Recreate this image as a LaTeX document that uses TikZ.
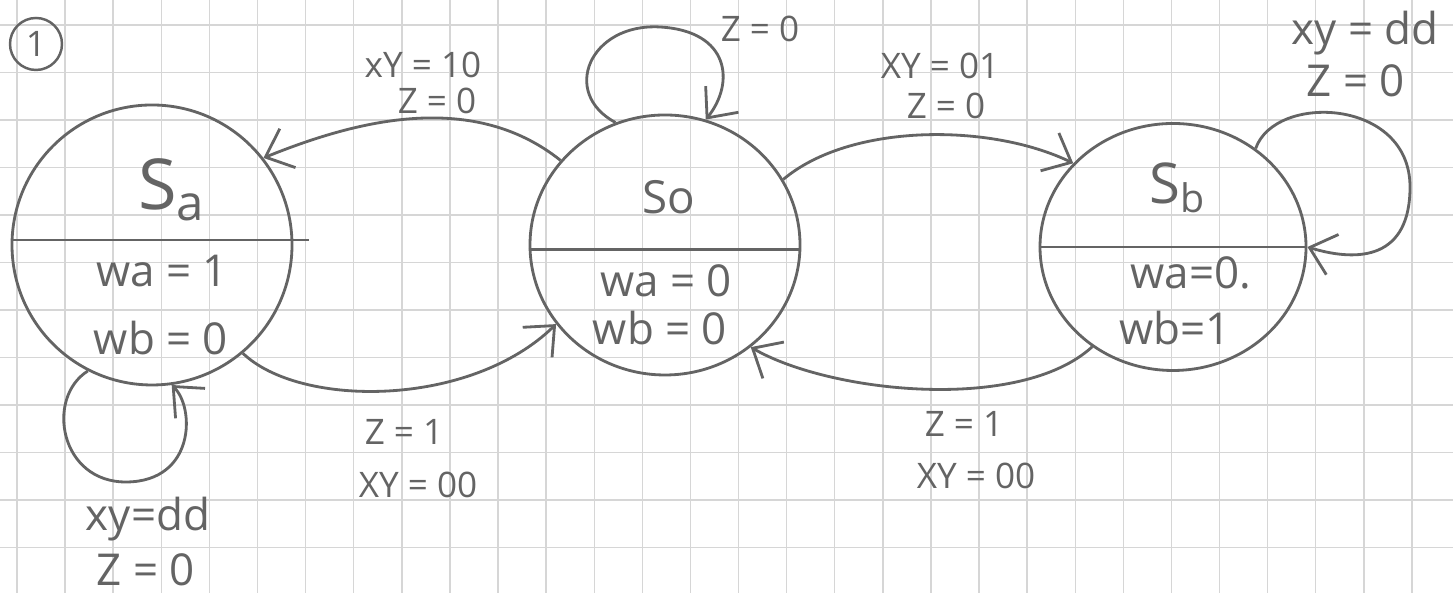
\documentclass[tikz,border=0pt]{standalone}
\usepackage{fontspec}
\setmainfont{Open Sans}
\usetikzlibrary{arrows.meta,shapes.geometric}

\definecolor{lapiz}{RGB}{100,100,100}
\definecolor{cuadricula}{RGB}{214,214,214}

\begin{document}
\begin{tikzpicture}[
    estado/.style={ellipse, draw=lapiz, line width=0.8pt, inner sep=0pt},
    trazo/.style={draw=lapiz, line width=0.8pt},
    flecha/.style={trazo, -{Straight Barb[length=2.4mm,width=4.2mm]}},
    nombre/.style={text=lapiz},
    salida/.style={text=lapiz, font=\fontsize{12.5}{14}\selectfont},
    etiqueta/.style={text=lapiz, font=\fontsize{10}{12}\selectfont},
    etiquetagrande/.style={text=lapiz, font=\fontsize{12.5}{14}\selectfont}
  ]

  % Hoja cuadriculada de fondo
  \useasboundingbox (0,0) rectangle (14.53,5.93);
  \fill[white] (0,0) rectangle (14.53,5.93);
  \foreach \i in {0,...,29}
    \draw[cuadricula, line width=0.4pt] ({0.17+0.481*\i},0) -- ++(0,5.93);
  \foreach \j in {0,...,12}
    \draw[cuadricula, line width=0.4pt] (0,{5.68-0.475*\j}) -- ++(14.53,0);

  % Número del ejercicio
  \node[circle, draw=lapiz, line width=0.7pt, minimum size=0.52cm, inner sep=0pt, text=lapiz] (num) at (0.36,5.49) {1};

  % Estados
  \node[estado, minimum width=2.80cm, minimum height=2.80cm] (sa) at (1.52,3.48) {};
  \node[estado, minimum width=2.70cm, minimum height=2.60cm] (so) at (6.65,3.48) {};
  \node[estado, minimum width=2.66cm, minimum height=2.47cm] (sb) at (11.73,3.46) {};

  % Línea que separa el nombre del estado de sus salidas
  \draw[trazo] (sa.178) -- ++(2.98,0);
  \draw[trazo] (so.182) -- (so.358);
  \draw[trazo] (sb.west) -- (sb.east);

  % Nombre y salidas de cada estado
  \node[nombre, font=\fontsize{20}{22}\selectfont] (nsa) at (1.72,4.03) {S\textsubscript{a}};
  \node[salida] (wasa) at (1.62,3.22) {wa = 1};
  \node[salida] (wbsa) at (1.61,2.55) {wb = 0};

  \node[nombre, font=\fontsize{13}{15}\selectfont] (nso) at (6.69,3.96) {So};
  \node[salida] (waso) at (6.66,3.12) {wa = 0};
  \node[salida] (wbso) at (6.60,2.65) {wb = 0};

  \node[nombre, font=\fontsize{16}{18}\selectfont] (nsb) at (11.78,4.05) {S\textsubscript{b}};
  \node[salida] (wasb) at (11.91,3.20) {wa=0.};
  \node[salida] (wbsb) at (11.75,2.65) {wb=1};

  % Transiciones de So a Sa y de Sa a So
  \draw[flecha] (so.141) .. controls (4.7,5.05) and (3.5,4.7) .. (sa.38);
  \node[etiqueta] (l10a) at (4.23,5.28) {xY = 10};
  \node[etiqueta] (l10b) at (4.37,4.92) {Z = 0};

  \draw[flecha] (sa.310) .. controls (3.0,1.85) and (4.7,1.85) .. (so.216);
  \node[etiqueta] (l00a) at (4.04,1.61) {Z = 1};
  \node[etiqueta] (l00b) at (4.18,1.08) {XY = 00};

  % Transiciones de So a Sb y de Sb a So
  \draw[flecha] (so.29) .. controls (8.5,4.7) and (9.9,4.7) .. (sb.140);
  \node[etiqueta] (l01a) at (9.40,5.27) {XY = 01};
  \node[etiqueta] (l01b) at (9.46,4.87) {Z = 0};

  \draw[flecha] (sb.231) .. controls (10.2,1.8) and (8.3,2.0) .. (so.310);
  \node[etiqueta] (l00c) at (9.64,1.69) {Z = 1};
  \node[etiqueta] (l00d) at (9.76,1.17) {XY = 00};

  % Lazos de permanencia en cada estado
  \draw[flecha] (so.112) .. controls (5.6,5.0) and (5.9,5.7) .. (6.60,5.66)
    .. controls (7.3,5.62) and (7.35,5.1) .. (so.72);
  \node[etiqueta] (lzo) at (7.60,5.64) {Z = 0};

  \draw[flecha] (sb.50) .. controls (12.75,5.0) and (14.1,4.95) .. (14.1,4.06)
    .. controls (14.1,3.35) and (13.6,3.3) .. (sb.east);
  \node[etiquetagrande] (lddb) at (13.65,5.60) {xy = dd};
  \node[etiquetagrande] (lzb) at (13.56,5.12) {Z = 0};

  \draw[flecha] (sa.243) .. controls (0.45,1.95) and (0.6,1.1) .. (1.27,1.11)
    .. controls (1.95,1.12) and (1.95,1.85) .. (sa.278);
  \node[etiquetagrande] (ldda) at (1.48,0.74) {xy=dd};
  \node[etiquetagrande] (lza) at (1.46,0.23) {Z = 0};

\end{tikzpicture}
\end{document}
